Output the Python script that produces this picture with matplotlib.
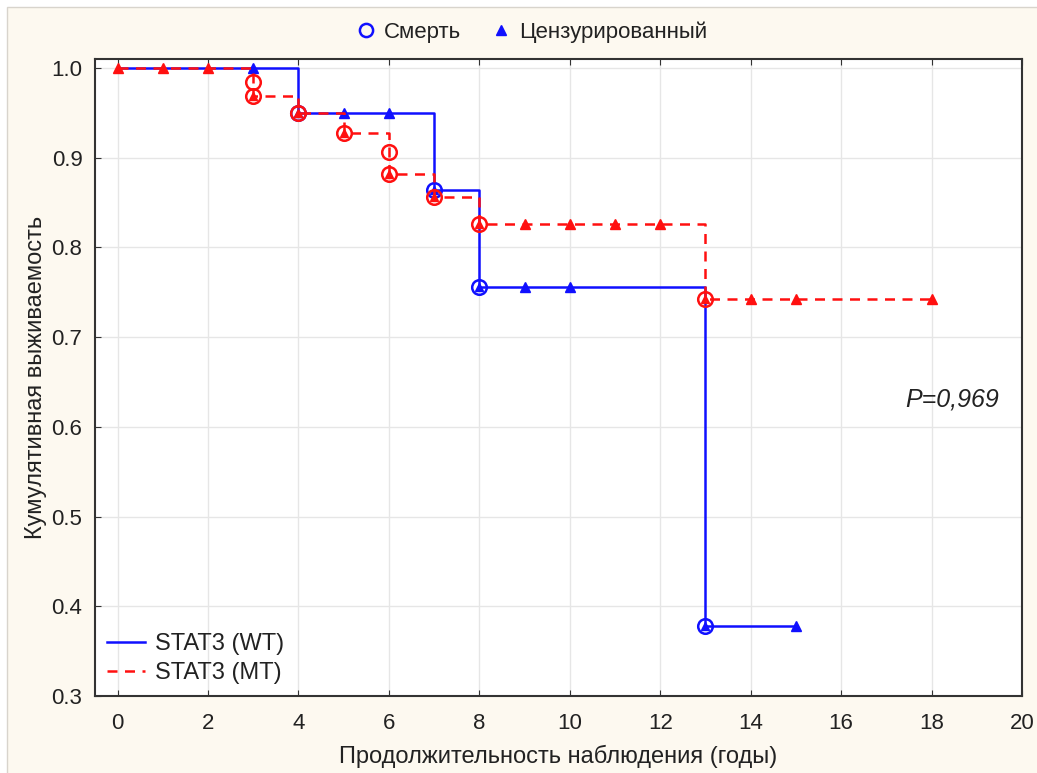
import matplotlib.pyplot as plt
from matplotlib.lines import Line2D
from matplotlib.patches import Rectangle

plt.rcParams['font.family'] = ['Liberation Sans', 'DejaVu Sans']

# ── data: Kaplan-Meier curves ──────────────
wt_times = [0, 4, 7, 8, 13, 15]
wt_surv = [1.0, 0.95, 0.864, 0.756, 0.378, 0.378]
wt_death_t = [4, 7, 8, 13]
wt_death_s = [0.95, 0.864, 0.756, 0.378]
wt_cens_t = [3, 5, 6, 9, 10, 15]
wt_cens_s = [1.0, 0.95, 0.95, 0.756, 0.756, 0.378]

mt_times = [0, 3, 4, 5, 6, 7, 8, 13, 18]
mt_surv = [1.0, 0.969, 0.95, 0.928, 0.882, 0.856, 0.826, 0.743, 0.743]
mt_death_t = [3, 3, 4, 5, 6, 6, 7, 8, 13]
mt_death_s = [0.984, 0.969, 0.95, 0.928, 0.906, 0.882, 0.856, 0.826, 0.743]
mt_cens_t = [0, 1, 2, 9, 10, 11, 12, 14, 15, 18]
mt_cens_s = [1.0, 1.0, 1.0, 0.826, 0.826, 0.826, 0.826, 0.743, 0.743, 0.743]

BLUE = "#1010ff"
RED = "#ff1010"

fig = plt.figure(figsize=(10.37, 7.73), dpi=100, facecolor="white")
# cream panel behind everything, with a thin border at left/top
fig.patches.append(Rectangle((0.0068, -0.01), 1.1, 1.0 - 0.009 + 0.01, transform=fig.transFigure,
                             facecolor="#fdf9f0", edgecolor="#d8d4cc", linewidth=1, zorder=-10))
ax = fig.add_axes([0.0916, 0.0996, 0.8939, 0.8241])
ax.set_facecolor("white")


def draw_group(times, surv, dt, ds, ct, cs, color, ls, z):
    ax.step(times, surv, where="post", color=color, linestyle=ls, linewidth=1.8,
            dashes=(4, 3) if ls == "--" else (None, None), zorder=z)
    ax.plot(dt, ds, "o", markersize=10.5, markerfacecolor="none",
            markeredgecolor=color, markeredgewidth=1.8, zorder=z + 0.1)
    # last death at each time also gets a small filled triangle inside
    last = {}
    for t, s in zip(dt, ds):
        last[t] = min(s, last.get(t, 9))
    ax.plot(list(last.keys()), list(last.values()), "^", markersize=6,
            color=color, zorder=z + 0.2)
    ax.plot(ct, cs, "^", markersize=7.5, color=color, zorder=z + 0.2)


draw_group(wt_times, wt_surv, wt_death_t, wt_death_s, wt_cens_t, wt_cens_s, BLUE, "-", 3)
draw_group(mt_times, mt_surv, mt_death_t, mt_death_s, mt_cens_t, mt_cens_s, RED, "--", 4)

ax.set_xlim(-0.5, 20)
ax.set_ylim(0.3, 1.01)
ax.set_xticks(range(0, 21, 2))
ax.set_yticks([0.3, 0.4, 0.5, 0.6, 0.7, 0.8, 0.9, 1.0])
ax.set_yticklabels([f"{v:.1f}" for v in ax.get_yticks()])
ax.grid(True, color="#e6e6e6", linewidth=1)
ax.set_axisbelow(True)
ax.tick_params(direction="in", top=True, labelsize=16, length=4, color="#333333",
               labelcolor="#222222")
ax.tick_params(axis="x", pad=12)
ax.tick_params(axis="y", pad=9)
for sp in ax.spines.values():
    sp.set_linewidth(1.5)
    sp.set_color("#333333")

ax.set_xlabel("Продолжительность наблюдения (годы)", fontsize=17, labelpad=8,
              color="#222222")
ax.set_ylabel("Кумулятивная выживаемость", fontsize=17, labelpad=3, color="#222222")

ax.text(19.5, 0.63, "P=0,969", style="italic", fontsize=18, ha="right", va="center",
        color="#222222")

lines = [Line2D([], [], color=BLUE, linewidth=1.8),
         Line2D([], [], color=RED, linewidth=1.8, linestyle="--", dashes=(4, 3))]
ax.legend(lines, ["STAT3 (WT)", "STAT3 (MT)"], loc="lower left", frameon=False,
          fontsize=17, handlelength=1.6, handletextpad=0.45, borderaxespad=0.1,
          labelspacing=0.3, labelcolor="#222222")

marks = [Line2D([], [], marker="o", linestyle="none", markersize=9.5,
                markerfacecolor="none", markeredgecolor=BLUE, markeredgewidth=1.8),
         Line2D([], [], marker="^", linestyle="none", markersize=7, color=BLUE)]
fig.legend(marks, ["Смерть", "Цензурированный"], loc="center", ncol=2,
           bbox_to_anchor=(0.512, 0.958), frameon=False, fontsize=16,
           handlelength=1.0, handletextpad=0.3, columnspacing=1.3, labelcolor="#222222")

plt.savefig("out.png", dpi=100, facecolor=fig.get_facecolor())
